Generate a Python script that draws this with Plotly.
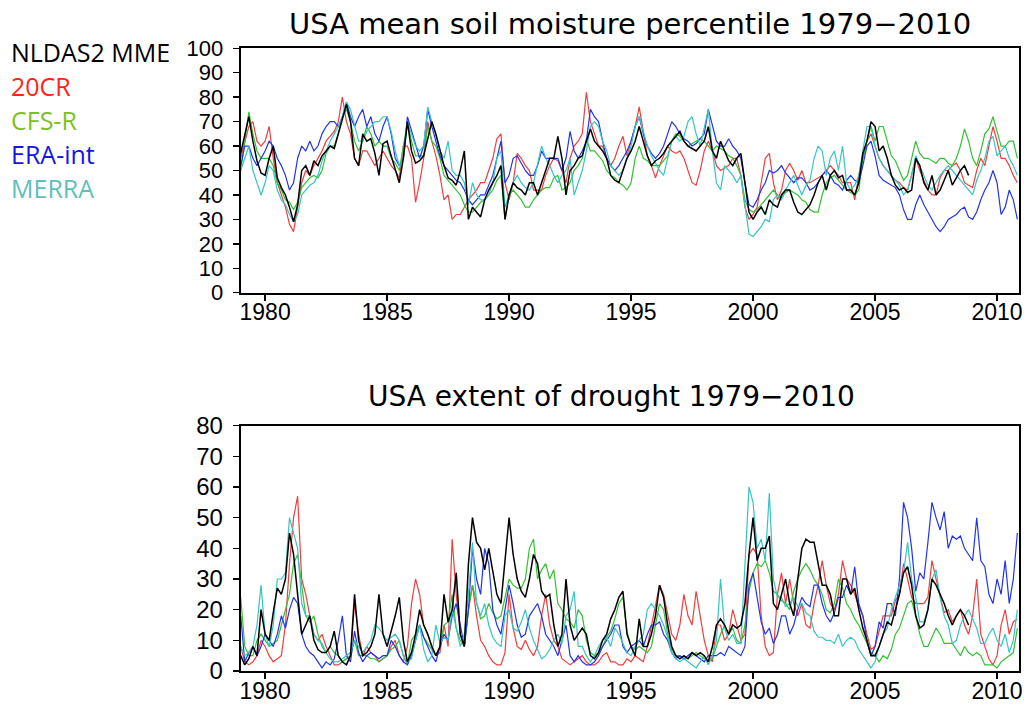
import plotly.graph_objects as go

# ---------------- data (bimonthly samples) ----------------
START_YEAR = 1979
PER_YEAR = 6

series_names = ["NLDAS2 MME", "20CR", "CFS-R", "ERA-int", "MERRA"]

# USA mean soil moisture percentile
sm_nldas = [
    57, 65, 72, 62, 54, 49,  48, 55, 60, 47, 43, 40,  35, 29, 36, 50, 52, 48,
    54, 52, 56, 58, 60, 59,  65, 70, 77, 70, 55, 52,  65, 62, 63, 57, 48, 61,
    62, 56, 50, 45, 55, 70,  58, 53, 54, 56, 63, 70,  65, 58, 52, 47, 46, 44,
    50, 58, 30, 35, 33, 31,  38, 42, 45, 48, 52, 30,  40, 45, 43, 42, 40, 45,
    45, 40, 45, 50, 55, 55,  64, 55, 40, 50, 52, 55,  56, 62, 67, 62, 60, 58,
    55, 48, 46, 45, 50, 55,  58, 62, 68, 62, 56, 52,  54, 55, 57, 60, 62, 64,
    66, 62, 60, 59, 58, 60,  62, 68, 58, 55, 62, 58,  54, 52, 55, 57, 45, 33,
    30, 33, 35, 32, 38, 36,  35, 40, 42, 42, 37, 33,  32, 34, 36, 40, 45, 48,
    42, 48, 50, 47, 48, 42,  42, 40, 45, 57, 62, 70,  68, 58, 60, 55, 48, 44,
    42, 43, 41, 42, 55, 52,  45, 42, 48, 40, 42, 46,  50, 44, 47, 50, 52, 48,
]
sm_20cr = [
    55, 62, 68, 70, 62, 60,  62, 68, 55, 45, 40, 35,  28, 25, 35, 45, 50, 48,
    52, 55, 58, 62, 64, 66,  70, 80, 70, 65, 55, 52,  58, 58, 55, 52, 55, 58,
    55, 52, 50, 47, 60, 60,  55, 37, 45, 55, 70, 62,  56, 48, 38, 40, 30, 32,
    32, 35, 38, 40, 42, 45,  45, 50, 55, 63, 65, 45,  38, 45, 57, 55, 52, 50,
    42, 42, 42, 48, 52, 55,  54, 50, 45, 55, 60, 62,  65, 82, 70, 65, 60, 60,
    55, 52, 55, 60, 64, 56,  62, 68, 76, 66, 56, 52,  47, 52, 56, 60, 58, 57,
    58, 55, 50, 45, 44, 50,  58, 62, 58, 52, 50, 51,  52, 55, 55, 48, 35, 30,
    32, 35, 45, 55, 57, 45,  38, 42, 50, 53, 50, 46,  50, 45, 45, 46, 47, 48,
    50, 52, 50, 48, 45, 45,  45, 38, 48, 55, 62, 65,  60, 55, 52, 50, 48, 46,
    45, 43, 42, 48, 55, 50,  46, 42, 40, 40, 47, 50,  50, 52, 53, 50, 45, 44,
    43, 50, 55, 52, 60, 68,  62, 55, 55, 52, 48, 45,
]
sm_cfsr = [
    50, 62, 74, 65, 58, 55,  55, 55, 52, 45, 42, 38,  37, 34, 37, 43, 45, 47,
    48, 47, 50, 57, 60, 60,  65, 72, 75, 70, 62, 58,  62, 68, 65, 60, 62, 60,
    60, 55, 53, 50, 60, 70,  62, 56, 56, 56, 68, 62,  60, 55, 48, 46, 44, 42,
    40, 36, 33, 33, 35, 37,  38, 40, 42, 46, 48, 30,  40, 42, 40, 38, 35, 35,
    38, 40, 42, 43, 43, 47,  48, 42, 43, 45, 50, 52,  55, 63, 58, 58, 56, 54,
    50, 48, 47, 45, 44, 42,  45, 55, 60, 55, 54, 52,  52, 52, 54, 56, 62, 65,
    64, 62, 60, 61, 62, 63,  62, 60, 58, 60, 59, 58,  56, 55, 52, 48, 38, 34,
    33, 34, 36, 38, 40, 42,  40, 39, 41, 42, 41, 40,  38, 37, 34, 33, 33, 40,
    45, 47, 48, 46, 44, 42,  41, 40, 42, 55, 62, 68,  62, 68, 68, 62, 56, 54,
    50, 46, 48, 55, 62, 57,  55, 55, 54, 53, 55, 55,  53, 52, 55, 60, 67, 62,
    55, 52, 58, 65, 67, 72,  66, 60, 60, 62, 62, 55,
]
sm_era = [
    52, 60, 60, 55, 52, 55,  58, 62, 60, 55, 52, 48,  42, 45, 55, 60, 58, 62,
    58, 60, 65, 68, 70, 70,  68, 72, 78, 72, 68, 72,  75, 68, 72, 65, 62, 68,
    72, 65, 55, 52, 55, 72,  66, 60, 55, 60, 75, 68,  62, 56, 52, 50, 48, 46,
    45, 42, 38, 36, 38, 40,  40, 44, 48, 55, 62, 45,  48, 55, 56, 53, 50, 48,
    48, 52, 58, 55, 55, 55,  55, 50, 55, 66, 58, 55,  58, 62, 75, 72, 70, 62,
    55, 52, 50, 52, 55, 58,  62, 68, 72, 65, 60, 57,  55, 57, 60, 65, 70, 68,
    65, 63, 62, 60, 61, 63,  65, 75, 68, 62, 60, 60,  63, 60, 58, 55, 45, 36,
    35, 38, 42, 45, 50, 49,  50, 52, 49, 47, 45, 47,  47, 45, 42, 43, 45, 48,
    50, 48, 45, 44, 42, 46,  48, 46, 45, 52, 60, 62,  56, 48, 46, 45, 44, 43,
    40, 34, 30, 30, 36, 40,  36, 33, 30, 27, 25, 27,  30, 31, 32, 34, 35, 31,
    30, 33, 38, 42, 45, 50,  45, 32, 35, 42, 38, 30,
]
sm_merra = [
    50, 55, 60, 50, 45, 40,  45, 52, 50, 42, 38, 36,  32, 29, 32, 40, 42, 44,
    45, 48, 54, 58, 62, 65,  68, 72, 78, 75, 68, 62,  62, 66, 68, 70, 70, 72,
    72, 66, 58, 52, 55, 70,  65, 60, 58, 60, 76, 70,  64, 58, 55, 62, 50, 48,
    48, 45, 36, 45, 40, 38,  38, 40, 45, 55, 58, 35,  40, 45, 48, 45, 43, 42,
    45, 52, 60, 55, 52, 48,  45, 48, 50, 55, 40, 45,  50, 58, 68, 70, 68, 62,
    58, 52, 50, 48, 50, 55,  60, 68, 72, 66, 60, 56,  53, 50, 48, 55, 62, 64,
    62, 64, 70, 72, 65, 60,  68, 75, 58, 45, 42, 52,  50, 48, 45, 48, 36, 24,
    23, 25, 27, 30, 29, 38,  40, 38, 42, 45, 48, 44,  40, 44, 46, 55, 60, 58,
    48, 55, 58, 50, 60, 45,  42, 44, 48, 58, 68, 68,  60, 55, 52, 50, 48, 46,
    44, 40, 42, 48, 56, 52,  48, 44, 42, 45, 48, 50,  52, 50, 48, 46, 44, 42,
    40, 46, 50, 55, 62, 64,  56, 58, 60, 55, 52, 48,
]

# USA extent of drought
dr_nldas = [
    5, 2, 4, 8, 5, 20,  12, 10, 19, 27, 25, 30,  45, 38, 25, 12, 15, 18,
    10, 7, 6, 6, 8, 13,  5, 3, 2, 5, 25, 10,  5, 6, 8, 12, 25, 12,
    8, 13, 18, 24, 10, 3,  6, 12, 20, 15, 12, 8,  5, 8, 25, 16, 20, 32,
    12, 8, 35, 50, 42, 40,  33, 40, 32, 25, 22, 35,  50, 38, 30, 26, 24, 30,
    38, 35, 26, 24, 25, 15,  8, 12, 30, 15, 10, 12,  14, 12, 5, 4, 6, 10,
    12, 17, 20, 24, 26, 12,  8, 5, 17, 8, 8, 12,  18, 28, 24, 15, 8, 5,
    4, 5, 4, 6, 5, 6,  5, 3, 8, 15, 17, 15,  12, 15, 14, 15, 22, 38,
    50, 36, 40, 40, 44, 22,  20, 25, 30, 22, 18, 30,  40, 43, 42, 42, 35, 28,
    28, 25, 18, 18, 30, 30,  25, 27, 20, 14, 10, 5,  5, 8, 12, 16, 15, 20,
    25, 32, 34, 28, 18, 14,  15, 20, 30, 28, 25, 22,  18, 15, 18, 20, 18, 15,
]
dr_20cr = [
    8, 3, 2, 3, 5, 10,  8, 5, 3, 4, 5, 15,  35, 50, 57, 30, 25, 18,
    12, 10, 12, 8, 5, 2,  2, 3, 4, 5, 22, 12,  5, 8, 6, 5, 3, 4,
    5, 8, 10, 5, 3, 8,  22, 30, 25, 15, 12, 8,  5, 6, 15, 8, 43, 25,
    12, 8, 20, 28, 18, 10,  8, 5, 3, 2, 2, 6,  25, 14, 8, 7, 10, 7,
    5, 8, 18, 25, 15, 10,  8, 4, 3, 2, 3, 4,  5, 3, 2, 2, 3, 5,
    6, 3, 3, 2, 2, 4,  3, 5, 4, 3, 8, 15,  22, 28, 25, 18, 12, 10,
    15, 25, 18, 15, 26, 18,  10, 5, 3, 15, 15, 10,  12, 20, 15, 10, 12, 38,
    40, 38, 18, 8, 5, 6,  25, 32, 22, 30, 22, 18,  22, 15, 14, 22, 28, 36,
    28, 22, 20, 25, 36, 30,  28, 25, 21, 18, 12, 7,  8, 13, 18, 18, 18, 23,
    25, 35, 30, 24, 22, 22,  22, 24, 36, 30, 24, 19,  20, 16, 18, 20, 15, 12,
    18, 30, 12, 8, 4, 2,  5, 15, 20, 12, 16, 17,
]
dr_cfsr = [
    24, 8, 5, 5, 10, 12,  10, 8, 9, 10, 15, 20,  25, 35, 38, 28, 18, 16,
    18, 12, 8, 6, 8, 6,  5, 3, 4, 5, 10, 5,  5, 5, 4, 4, 3, 4,
    5, 7, 8, 10, 5, 2,  10, 12, 15, 11, 9, 7,  5, 8, 15, 16, 25, 14,
    10, 8, 20, 28, 22, 17,  18, 22, 19, 17, 18, 24,  30, 28, 27, 27, 30, 40,
    43, 30, 33, 35, 30, 33,  22, 20, 17, 16, 14, 20,  18, 10, 6, 5, 6, 8,
    11, 13, 17, 22, 24, 13,  8, 7, 8, 7, 6, 8,  15, 22, 20, 12, 7, 5,
    5, 4, 4, 5, 6, 5,  4, 3, 4, 8, 12, 15,  12, 14, 10, 9, 15, 26,
    32, 35, 34, 36, 32, 26,  25, 23, 22, 20, 26, 30,  33, 35, 33, 30, 28, 25,
    20, 19, 22, 30, 27, 22,  20, 17, 15, 12, 9, 6,  5, 3, 5, 4, 7, 12,
    14, 18, 22, 23, 18, 12,  8, 8, 11, 14, 12, 9,  9, 9, 7, 5, 8, 6,
    5, 6, 5, 2, 2, 2,  1, 3, 4, 5, 6, 14,
]
dr_era = [
    18, 3, 6, 8, 5, 8,  12, 10, 8, 12, 18, 14,  20, 24, 22, 12, 8, 6,
    5, 3, 1, 3, 2, 4,  10, 18, 5, 3, 13, 6,  3, 5, 6, 5, 4, 5,
    5, 10, 8, 5, 3, 2,  5, 10, 15, 11, 8, 5,  3, 8, 12, 10, 18, 22,
    15, 8, 20, 40, 30, 25,  40, 35, 20, 15, 12, 20,  28, 22, 15, 11, 12, 18,
    20, 22, 18, 12, 10, 8,  5, 10, 15, 5, 3, 5,  3, 2, 2, 3, 5, 8,
    10, 12, 15, 15, 8, 6,  8, 9, 10, 8, 12, 15,  15, 16, 12, 10, 6, 4,
    5, 4, 5, 6, 5, 4,  3, 5, 5, 5, 6, 5,  8, 7, 6, 5, 8, 28,
    32, 24, 16, 12, 14, 9,  12, 18, 18, 12, 15, 20,  24, 22, 21, 28, 28, 22,
    18, 16, 19, 24, 24, 28,  25, 34, 22, 18, 10, 5,  8, 16, 14, 22, 22, 18,
    30, 55, 50, 40, 26, 32,  30, 42, 55, 50, 46, 52,  40, 44, 43, 44, 40, 38,
    36, 50, 36, 34, 25, 22,  30, 25, 36, 22, 30, 45,
]
dr_merra = [
    8, 5, 6, 8, 15, 28,  12, 8, 15, 30, 30, 32,  50, 45, 40, 22, 18, 18,
    12, 10, 9, 6, 4, 3,  3, 4, 5, 6, 10, 8,  6, 8, 10, 15, 14, 12,
    10, 11, 12, 10, 5, 3,  4, 10, 15, 7, 3, 5,  15, 9, 11, 10, 20, 14,
    8, 12, 25, 42, 22, 18,  22, 15, 11, 9, 8, 18,  20, 14, 13, 16, 20, 14,
    10, 7, 4, 5, 7, 10,  12, 9, 18, 20, 26, 8,  8, 5, 3, 5, 8, 10,
    11, 8, 14, 12, 9, 6,  5, 8, 10, 12, 20, 22,  20, 18, 15, 11, 6, 4,
    3, 4, 3, 2, 1, 3,  5, 2, 5, 10, 30, 14,  10, 12, 9, 9, 35, 60,
    55, 40, 43, 36, 58, 30,  24, 24, 21, 22, 24, 21,  22, 19, 18, 13, 11, 11,
    10, 10, 9, 12, 8, 10,  11, 10, 7, 5, 3, 1,  3, 8, 12, 14, 20, 24,
    28, 32, 42, 30, 24, 16,  16, 20, 30, 33, 24, 18,  15, 9, 10, 15, 18, 20,
    17, 14, 9, 9, 12, 14,  10, 8, 12, 6, 10, 20,
]

x_tick_years = [1980, 1985, 1990, 1995, 2000, 2005, 2010]
sm_ticks = list(range(0, 101, 10))
dr_ticks = list(range(0, 81, 10))

# ---------------- styling ----------------
W, H = 1030, 707
line_colors = ["#000000", "#EE3E3E", "#33C133", "#2234EA", "#36C4C4"]
label_colors = ["#000000", "#FF2414", "#80C020", "#1414E6", "#5EC0B8"]


def times(n):
    return [START_YEAR + i / PER_YEAR for i in range(n)]


fig = go.Figure()
top = [sm_nldas, sm_20cr, sm_cfsr, sm_era, sm_merra]
bot = [dr_nldas, dr_20cr, dr_cfsr, dr_era, dr_merra]
order = [1, 2, 3, 4, 0]  # black drawn last (on top)
for data, xa, ya in [(top, "x", "y"), (bot, "x2", "y2")]:
    for k in order:
        vals = data[k]
        fig.add_trace(go.Scatter(
            x=times(len(vals)), y=vals, mode="lines", name=series_names[k],
            line=dict(color=line_colors[k], width=1.5 if k == 0 else 1.2),
            xaxis=xa, yaxis=ya, showlegend=False, hoverinfo="skip"))


def px_x(p):
    return p / W


def px_y(p):
    return 1 - p / H


def tfont(size):
    return dict(family="Liberation Sans", size=size, color="black")


common = dict(ticks="outside", ticklen=6, tickwidth=1.5, tickcolor="black",
              showline=True, linecolor="black", linewidth=2, mirror=True,
              showgrid=False, zeroline=False, automargin=False)
common_x = dict(range=[1979, 2010.9], tickvals=x_tick_years,
                tickfont=tfont(23), ticklabelstandoff=-8, **common)

xdom = [px_x(240.7), px_x(1019)]
fig.update_layout(
    template="none",
    width=W, height=H, margin=dict(l=0, r=0, t=0, b=0, pad=0, autoexpand=False),
    paper_bgcolor="white", plot_bgcolor="white", showlegend=False,
    xaxis=dict(domain=xdom, anchor="y", **common_x),
    yaxis=dict(domain=[px_y(292.7), px_y(48.3)], anchor="x", range=[0, 100],
               tickvals=sm_ticks, tickfont=tfont(22), ticklabelstandoff=5,
               **common),
    xaxis2=dict(domain=xdom, anchor="y2", **common_x),
    yaxis2=dict(domain=[px_y(671), px_y(425.7)], anchor="x2", range=[0, 80],
                tickvals=dr_ticks, tickfont=tfont(24), ticklabelstandoff=5,
                **common),
)

fig.add_annotation(text="USA mean soil moisture percentile 1979\u22122010",
                   x=px_x(630), y=px_y(24), xref="paper", yref="paper",
                   xanchor="center", yanchor="middle", showarrow=False,
                   font=dict(family="DejaVu Sans", size=29, color="black"))
fig.add_annotation(text="USA extent of drought 1979\u22122010",
                   x=px_x(611), y=px_y(397), xref="paper", yref="paper",
                   xanchor="center", yanchor="middle", showarrow=False,
                   font=dict(family="DejaVu Sans", size=28, color="black"))

label_y = [51.5, 86.5, 120, 154, 188]
for k, name in enumerate(series_names):
    fig.add_annotation(text=name, x=px_x(9), y=px_y(label_y[k]),
                       xref="paper", yref="paper", xanchor="left",
                       yanchor="middle", showarrow=False,
                       font=dict(family="Open Sans", size=25,
                                 color=label_colors[k]))

fig.write_html("out.html",
               config={"displayModeBar": False, "staticPlot": True},
               post_script="document.body.style.margin='0';"
                           "document.body.style.padding='0';")
